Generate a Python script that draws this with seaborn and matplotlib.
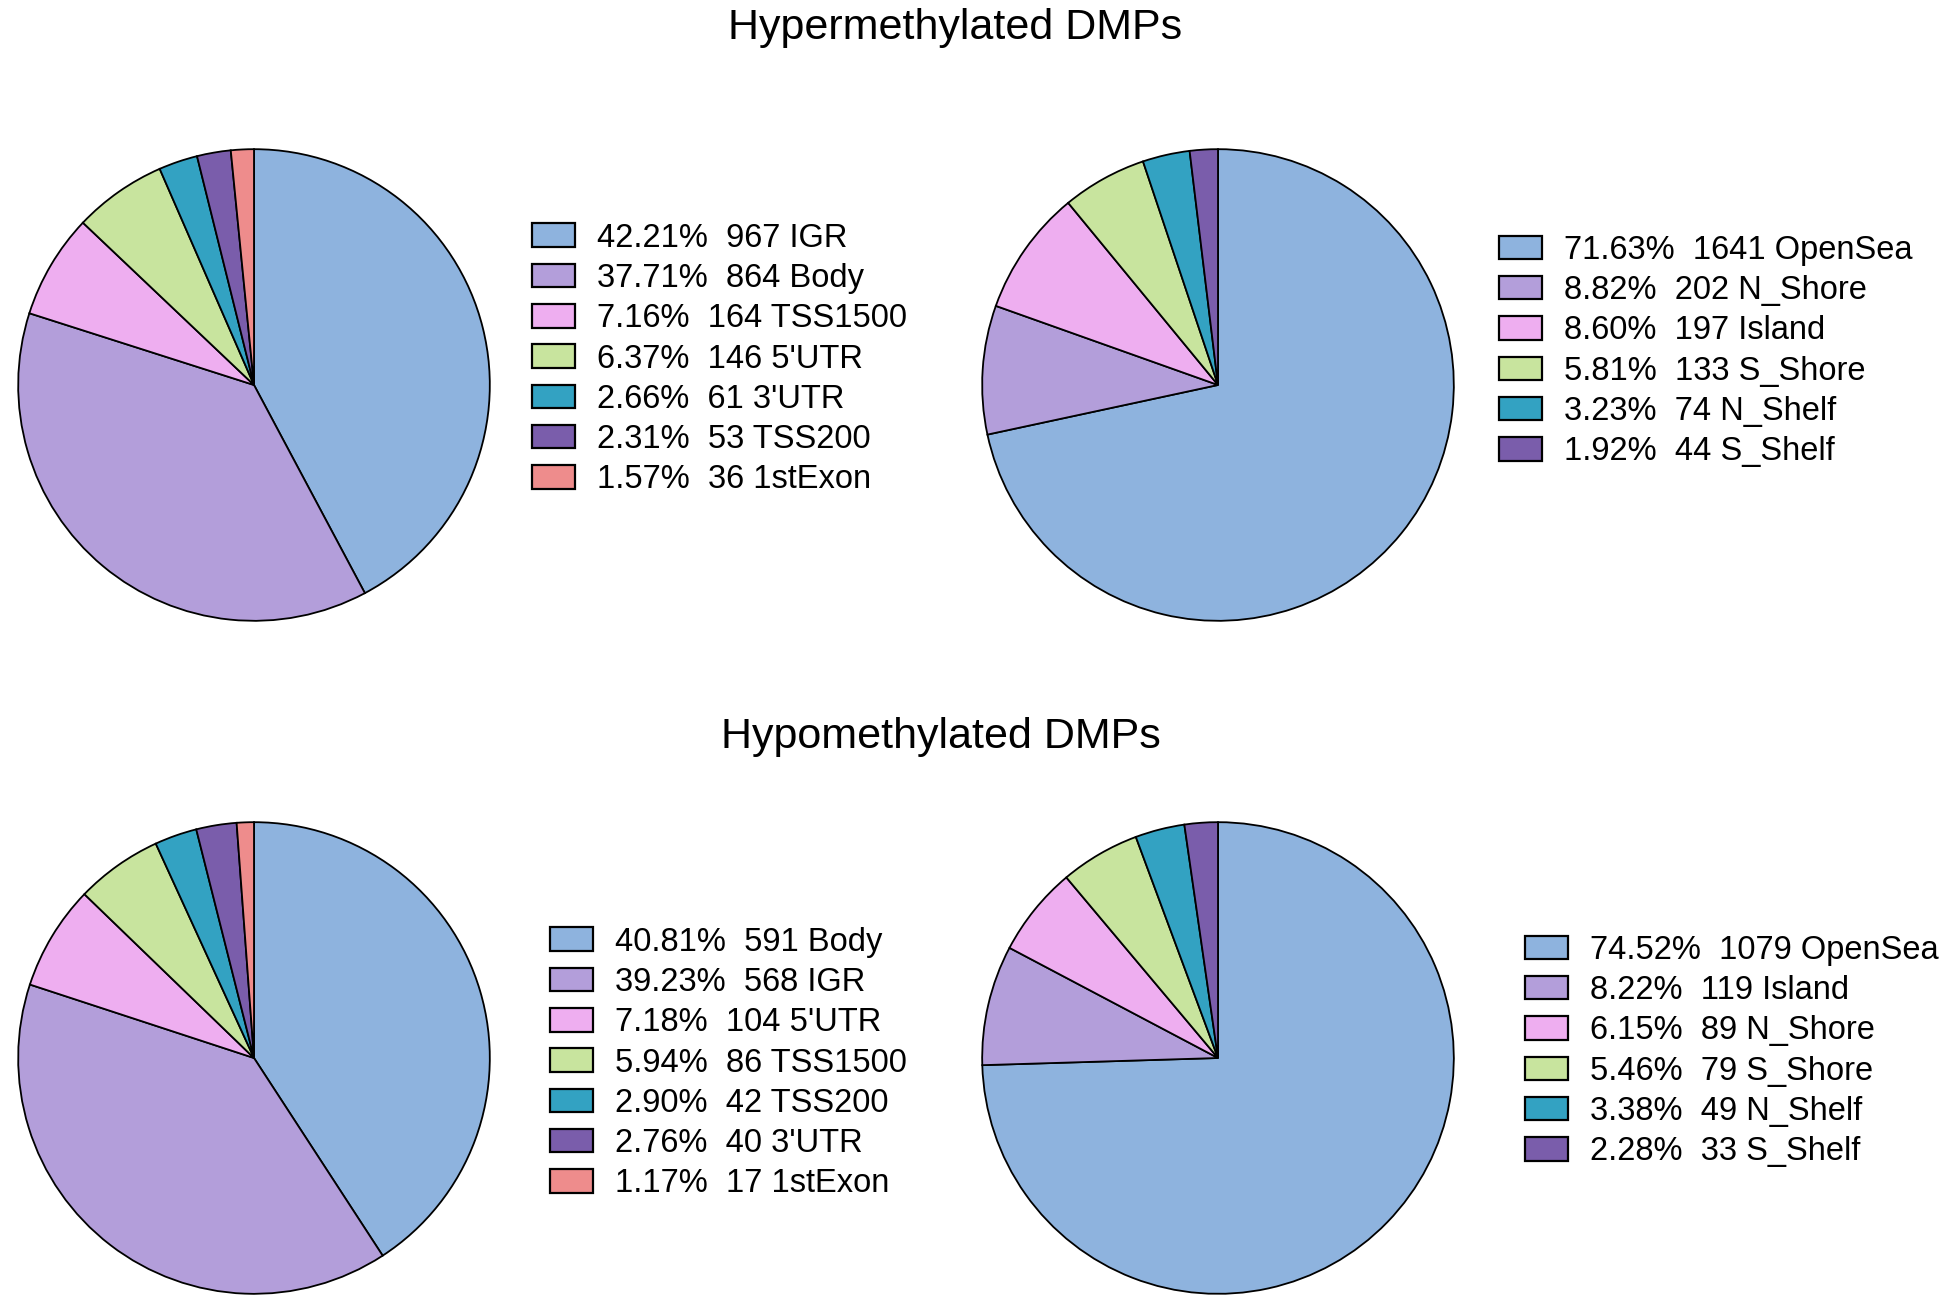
import matplotlib
matplotlib.use("Agg")
import matplotlib.pyplot as plt
import seaborn as sns

sns.set_theme(style="white")
plt.rcParams['font.family'] = ['Liberation Sans', 'DejaVu Sans']
plt.rcParams['text.color'] = 'black'

# ---- data ----
hyper_region_names = ["IGR", "Body", "TSS1500", "5'UTR", "3'UTR", "TSS200", "1stExon"]
hyper_region_counts = [967, 864, 164, 146, 61, 53, 36]
hyper_region_pcts = ["42.21%", "37.71%", "7.16%", "6.37%", "2.66%", "2.31%", "1.57%"]

hyper_island_names = ["OpenSea", "N_Shore", "Island", "S_Shore", "N_Shelf", "S_Shelf"]
hyper_island_counts = [1641, 202, 197, 133, 74, 44]
hyper_island_pcts = ["71.63%", "8.82%", "8.60%", "5.81%", "3.23%", "1.92%"]

hypo_region_names = ["Body", "IGR", "5'UTR", "TSS1500", "TSS200", "3'UTR", "1stExon"]
hypo_region_counts = [591, 568, 104, 86, 42, 40, 17]
hypo_region_pcts = ["40.81%", "39.23%", "7.18%", "5.94%", "2.90%", "2.76%", "1.17%"]

hypo_island_names = ["OpenSea", "Island", "N_Shore", "S_Shore", "N_Shelf", "S_Shelf"]
hypo_island_counts = [1079, 119, 89, 79, 49, 33]
hypo_island_pcts = ["74.52%", "8.22%", "6.15%", "5.46%", "3.38%", "2.28%"]

titles = ["Hypermethylated DMPs", "Hypomethylated DMPs"]

palette = ["#8EB3DE", "#B39EDA", "#EEAEF0", "#C8E49E", "#33A2C2", "#7A5DAB", "#EE8C8C"]

W, H = 1950, 1301
fig = plt.figure(figsize=(W / 100, H / 100), dpi=100)
fig.patch.set_facecolor("white")

R = 237


def draw(cx, cy, counts, pcts, names, leg_x, leg_cy):
    ax = fig.add_axes([(cx - R) / W, 1 - (cy + R) / H, 2 * R / W, 2 * R / H])
    cols = sns.color_palette(palette[:len(counts)])
    wedges, _ = ax.pie(counts, colors=cols, startangle=90, counterclock=False,
                       radius=1.0,
                       wedgeprops=dict(edgecolor="black", linewidth=1.3))
    ax.set_xlim(-1.005, 1.005)
    ax.set_ylim(-1.005, 1.005)
    ax.set_aspect("equal")
    ax.axis("off")
    labels = [f"{p}  {n} {nm}" for p, n, nm in zip(pcts, counts, names)]
    leg = fig.legend(wedges, labels, loc="center left",
                     bbox_to_anchor=(leg_x / W, 1 - leg_cy / H),
                     frameon=False, fontsize=23.5, borderpad=0, borderaxespad=0,
                     handlelength=1.31, handleheight=0.73, handletextpad=0.67,
                     labelspacing=0.285, labelcolor="black")
    for h in leg.legend_handles:
        h.set_linewidth(1.6)
        h.set_edgecolor("black")


draw(254, 385, hyper_region_counts, hyper_region_pcts, hyper_region_names, 532, 359)
draw(1218, 385, hyper_island_counts, hyper_island_pcts, hyper_island_names, 1499, 351)
draw(254, 1058, hypo_region_counts, hypo_region_pcts, hypo_region_names, 550, 1063)
draw(1218, 1058, hypo_island_counts, hypo_island_pcts, hypo_island_names, 1525, 1051)

fig.text(955 / W, 1 - 28 / H, titles[0], ha="center", va="center", fontsize=31, color="black")
fig.text(941 / W, 1 - 737 / H, titles[1], ha="center", va="center", fontsize=31, color="black")

fig.savefig("out.png", dpi=100, facecolor="white")
